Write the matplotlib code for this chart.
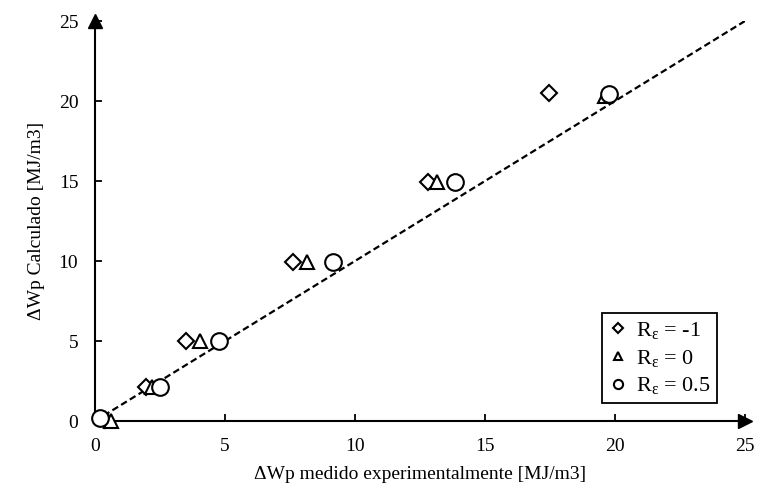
import matplotlib
matplotlib.use("Agg")
import matplotlib.pyplot as plt

plt.rcParams['font.family'] = ['Liberation Serif', 'DejaVu Serif']
plt.rcParams['mathtext.fontset'] = 'custom'
plt.rcParams['mathtext.rm'] = 'Liberation Serif'
plt.rcParams['mathtext.it'] = 'Liberation Serif:italic'

# Data
diam_x = [0.4, 1.95, 3.5, 7.6, 12.8, 17.45]
diam_y = [0.05, 2.1, 5.0, 9.95, 14.95, 20.5]
tri_x = [0.6, 2.2, 4.05, 8.15, 13.15, 19.6]
tri_y = [0.0, 2.1, 5.0, 9.95, 14.95, 20.3]
circ_x = [0.2, 2.5, 4.75, 9.15, 13.85, 19.75]
circ_y = [0.2, 2.1, 5.0, 9.95, 14.95, 20.45]
line_x = [0, 25]
line_y = [0, 25]
ticks = [0, 5, 10, 15, 20, 25]
labels = ['R$_{\\mathrm{ε}}$ = -1', 'R$_{\\mathrm{ε}}$ = 0', 'R$_{\\mathrm{ε}}$ = 0.5']

fig = plt.figure(figsize=(7.61, 4.97), dpi=100)
ax = fig.add_axes([95/761, 76/497, 650/761, 400/497])

ax.plot(line_x, line_y, linestyle=(0, (3, 1.6)), color='black', linewidth=1.6, zorder=2)
ax.plot(diam_x, diam_y, linestyle='none', marker='D', markersize=8.5, markerfacecolor='white',
        markeredgecolor='black', markeredgewidth=1.5, label=labels[0], zorder=3, clip_on=False)
ax.plot(tri_x, tri_y, linestyle='none', marker='^', markersize=10.5, markerfacecolor='white',
        markeredgecolor='black', markeredgewidth=1.5, label=labels[1], zorder=4, clip_on=False)
ax.plot(circ_x, circ_y, linestyle='none', marker='o', markersize=12, markerfacecolor='white',
        markeredgecolor='black', markeredgewidth=1.5, label=labels[2], zorder=5, clip_on=False)

ax.set_xlim(0, 25)
ax.set_ylim(0, 25)
ax.set_xticks(ticks)
ax.set_yticks(ticks)
ax.tick_params(direction='in', length=5, width=1.3, labelsize=14, colors='black', pad=12)
for s in ['top', 'right']:
    ax.spines[s].set_visible(False)
for s in ['left', 'bottom']:
    ax.spines[s].set_linewidth(1.5)

# arrow heads
ax.plot([25], [0], marker='>', markersize=10, color='black', clip_on=False, zorder=6)
ax.plot([0], [25], marker='^', markersize=10, color='black', clip_on=False, zorder=6)

ax.set_xlabel('ΔWp medido experimentalmente [MJ/m3]', fontsize=14, labelpad=8)
ax.set_ylabel('ΔWp Calculado [MJ/m3]', fontsize=14, labelpad=10)

leg = ax.legend(loc='lower right', bbox_to_anchor=(0.957, 0.045), borderaxespad=0, fontsize=16,
                markerscale=0.55, frameon=True, fancybox=False, edgecolor='black', framealpha=1,
                handlelength=0.8, handletextpad=0.4, borderpad=0.3, labelspacing=0.3)
leg.get_frame().set_linewidth(1.3)

fig.savefig('out.png', dpi=100)
